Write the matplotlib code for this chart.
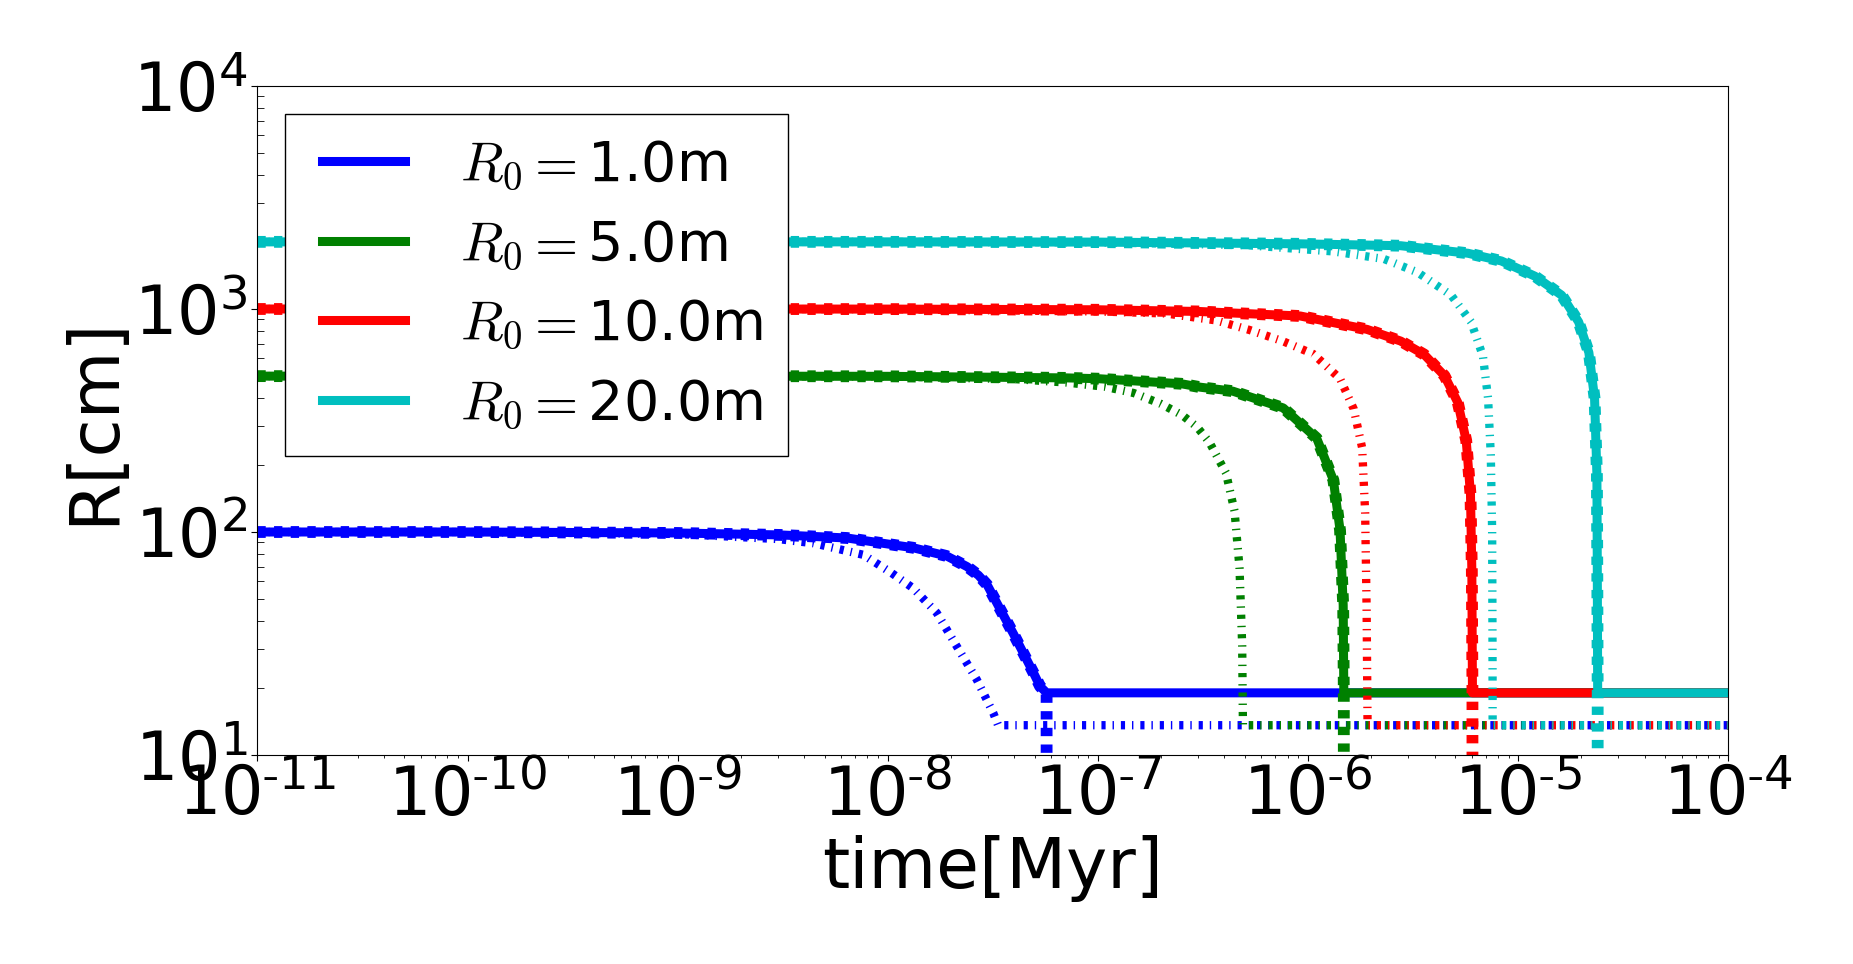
import numpy as np
import matplotlib
matplotlib.use("Agg")
import matplotlib.pyplot as plt
from matplotlib.ticker import LogLocator, FuncFormatter, NullFormatter
from matplotlib.legend_handler import HandlerLine2D
from matplotlib.lines import Line2D

plt.rcParams['mathtext.fontset'] = 'cm'
plt.rcParams['axes.unicode_minus'] = False
plt.rcParams['lines.scale_dashes'] = False

# values (time in Myr, R in cm)
labels = ['1.0m', '5.0m', '10.0m', '20.0m']
colors = ['b', 'g', 'r', 'c']

floor_solid = 19.0
floor_dd = 13.6
drop_dashed = 0.5

t_blue = [1e-11, 1e-10, 1e-9, 3.1e-9, 6.4e-9, 1.32e-8, 1.91e-8, 2.38e-8, 2.7e-8, 2.97e-8, 3.43e-8, 3.96e-8, 4.59e-8, 5.0e-8, 5.31e-8, 5.7e-8]
r_blue = [100, 100, 99, 97, 94, 85, 78, 70, 64, 58, 45, 35, 26.7, 22.8, 20.3, 19]
t_blue_dd = [1e-11, 1e-10, 1e-9, 3e-9, 4.45e-9, 7.65e-9, 1.03e-8, 1.32e-8, 1.71e-8, 2.13e-8, 2.65e-8, 3.18e-8, 3.35e-8]
r_blue_dd = [100, 100, 98, 93, 89, 79, 66, 56, 43.4, 30.7, 21.8, 15.4, 13.6]

t_green = [1e-11, 1e-9, 1e-8, 7.1e-8, 1.0e-7, 2.5e-7, 3.07e-7, 4.39e-7, 7.62e-7, 1.10e-6, 1.32e-6, 1.42e-6, 1.47e-6, 1.48e-6]
r_green = [500, 500, 499, 491, 487, 462, 446, 428, 360, 263, 171, 102, 47, 19]
t_green_dd = [1e-11, 1e-9, 1e-8, 4e-8, 7.1e-8, 1.08e-7, 1.48e-7, 2.0e-7, 2.52e-7, 2.96e-7, 3.39e-7, 4.07e-7, 4.47e-7, 4.72e-7, 4.86e-7, 4.9e-7]
r_green_dd = [500, 500, 498, 485, 468, 448, 420, 375, 334, 296, 253, 184, 124, 69, 31, 13.6]

t_red = [1e-11, 1e-9, 1e-8, 1e-7, 3e-7, 9.2e-7, 1.91e-6, 2.76e-6, 3.57e-6, 4.46e-6, 5.16e-6, 5.66e-6, 5.93e-6, 6.02e-6, 6.06e-6]
r_red = [1000, 1000, 999, 992, 975, 930, 810, 718, 625, 502, 381, 257, 148, 67, 19]
t_red_dd = [1e-11, 1e-9, 1e-8, 1e-7, 2.1e-7, 3.65e-7, 5.27e-7, 7.62e-7, 1.06e-6, 1.42e-6, 1.65e-6, 1.81e-6, 1.87e-6, 1.90e-6, 1.92e-6]
r_red_dd = [1000, 1000, 998, 975, 955, 889, 805, 716, 628, 487, 356, 238, 122, 45.5, 13.6]

t_cyan = [1e-11, 1e-9, 1e-8, 1e-7, 9.16e-7, 2.76e-6, 5.77e-6, 8.32e-6, 1.20e-5, 1.61e-5, 1.94e-5, 2.17e-5, 2.31e-5, 2.37e-5, 2.38e-5, 2.39e-5]
r_cyan = [2000, 2000, 2000, 1995, 1960, 1922, 1778, 1642, 1404, 1153, 875, 638, 398, 181, 68, 19]
t_cyan_dd = [1e-11, 1e-9, 1e-8, 1e-7, 5e-7, 1.32e-6, 2.30e-6, 3.32e-6, 4.80e-6, 5.97e-6, 6.80e-6, 7.19e-6, 7.41e-6, 7.52e-6, 7.55e-6, 7.56e-6]
r_cyan_dd = [2000, 2000, 1999, 1990, 1935, 1812, 1676, 1460, 1153, 875, 614, 398, 221, 100, 31, 13.6]

t_end = 1e-4

solid_t = [t_blue, t_green, t_red, t_cyan]
solid_r = [r_blue, r_green, r_red, r_cyan]
dd_t = [t_blue_dd, t_green_dd, t_red_dd, t_cyan_dd]
dd_r = [r_blue_dd, r_green_dd, r_red_dd, r_cyan_dd]


def pow_label(val, pos):
	e = int(round(np.log10(val)))
	if e < 0:
		return r'$\mathdefault{10^{\text{-}%d}}$' % (-e)
	return r'$\mathdefault{10^{%d}}$' % e


fig = plt.figure(figsize=(18.53, 9.64), dpi=100)
ax = fig.add_subplot(111)
fig.subplots_adjust(left=0.1389, right=0.9327, bottom=0.2168, top=0.9108)

for i in range(4):
	ts = solid_t[i] + [t_end]
	rs = solid_r[i] + [floor_solid]
	ax.plot(ts, rs, '-', color=colors[i], lw=6.5, label=r'$R_0=$' + labels[i])
	td = solid_t[i] + [solid_t[i][-1]]
	rd = solid_r[i] + [drop_dashed]
	ax.plot(td, rd, color=colors[i], lw=8.5, dashes=(6, 6))
	tdd = dd_t[i] + [t_end]
	rdd = dd_r[i] + [floor_dd]
	ax.plot(tdd, rdd, color=colors[i], lw=6, dashes=(3, 5, 1, 5))

ax.set_xscale('log')
ax.set_yscale('log')
ax.set_xlim(1e-11, 1e-4)
ax.set_ylim(10, 1e4)

ax.xaxis.set_major_locator(LogLocator(base=10, numticks=20))
ax.xaxis.set_minor_locator(LogLocator(base=10, subs=np.arange(2, 10), numticks=100))
ax.xaxis.set_minor_formatter(NullFormatter())
ax.xaxis.set_major_formatter(FuncFormatter(pow_label))
ax.yaxis.set_major_formatter(FuncFormatter(pow_label))

ax.set_xlabel('time[Myr]', fontsize=50)
ax.set_ylabel('R[cm]', fontsize=50)
ax.tick_params(axis='both', which='major', labelsize=48)
ax.tick_params(axis='x', which='major', direction='out', length=4, pad=2)
ax.tick_params(axis='x', which='minor', direction='out', length=2.5)
ax.tick_params(axis='y', which='major', direction='out', length=4, pad=3)
ax.tick_params(axis='y', which='minor', direction='in', length=5)

leg = ax.legend(loc='upper left', fontsize=40, handlelength=1.71, handletextpad=0.99,
	borderpad=0.45, labelspacing=0.46, fancybox=False, framealpha=1,
	handler_map={Line2D: HandlerLine2D(xpad=0.215)})
leg.get_frame().set_edgecolor('black')

fig.savefig('out.png', dpi=100)
